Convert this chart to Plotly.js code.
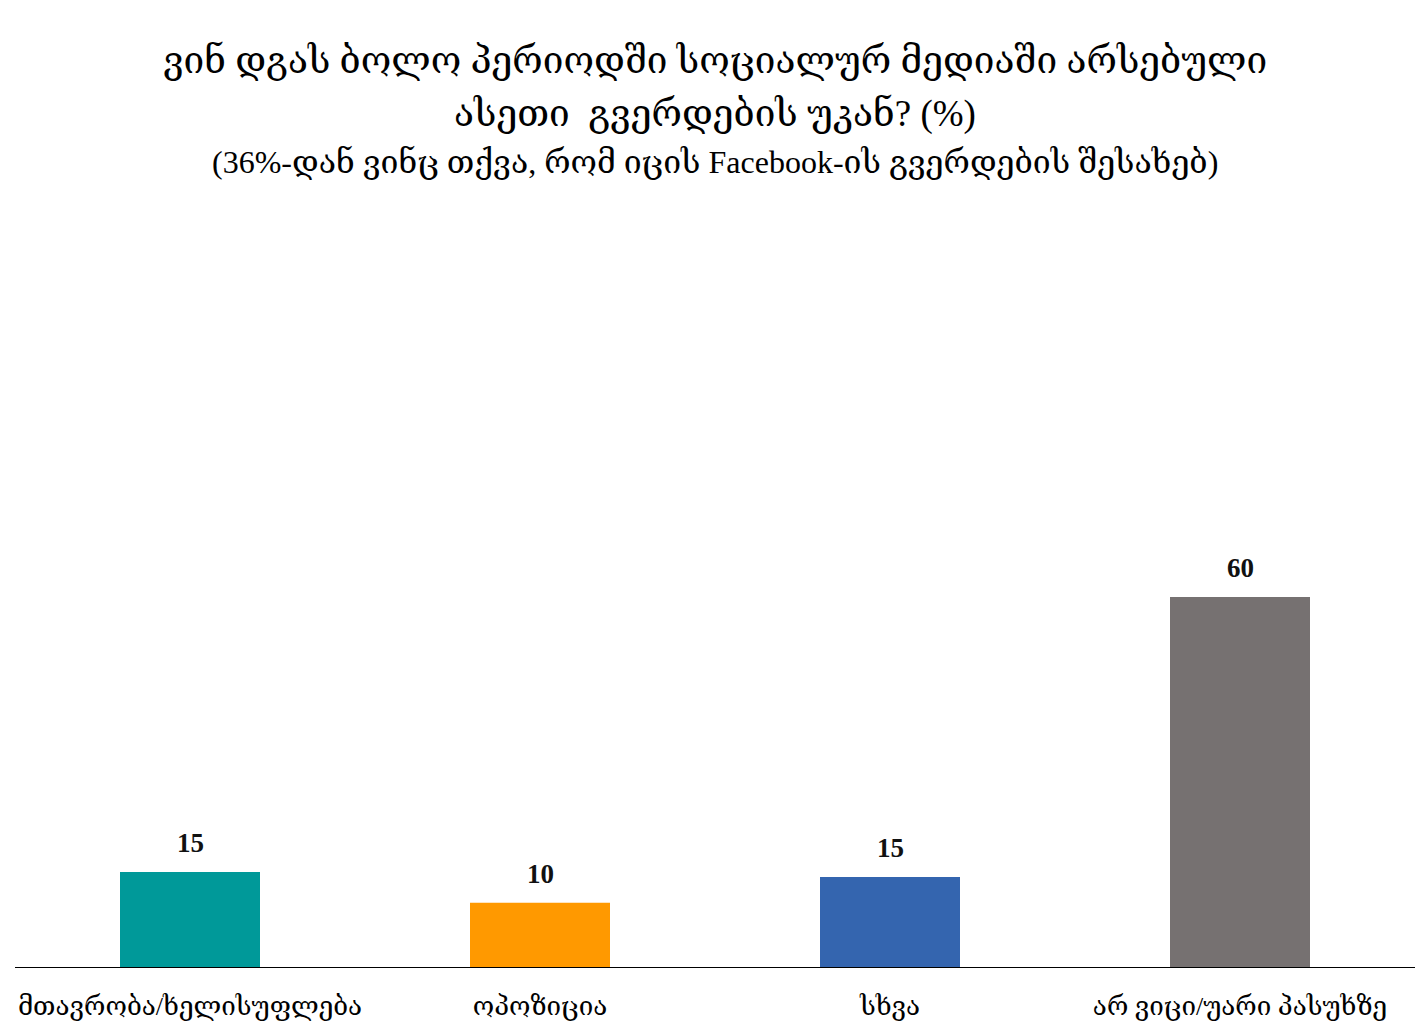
<!DOCTYPE html>
<html>
<head>
<meta charset="utf-8">
<script src="https://cdn.plot.ly/plotly-3.0.1.min.js"></script>
<style>html,body{margin:0;padding:0;background:#fff;}#chart{width:1420px;height:1031px;}</style>
</head>
<body>
<div id="chart"></div>
<script>
const categories = ["მთავრობა/ხელისუფლება", "ოპოზიცია", "სხვა", "არ ვიცი/უარი პასუხზე"];
const values = [15.4, 10.4, 14.6, 60];
const barColors = ["#009999", "#FF9900", "#3465AF", "#767171"];
const titleLine1 = "ვინ დგას ბოლო პერიოდში სოციალურ მედიაში არსებული";
const titleLine2 = "ასეთი  გვერდების უკან? (%)";
const subtitle = "(36%-დან ვინც თქვა, რომ იცის Facebook-ის გვერდების შესახებ)";

const serif = "'Liberation Serif', 'DejaVu Serif', serif";

const annotations = values.map((v, i) => ({
  x: categories[i], y: v, xref: 'x', yref: 'y',
  text: '<b>' + Math.round(v) + '</b>', showarrow: false,
  yanchor: 'bottom', yshift: 12,
  font: {family: serif, size: 27, color: '#111'}
}));

function px2paper(py) { return (967 - py) / 747; }
annotations.push(
  {text: titleLine1, xref: 'paper', yref: 'paper', x: 0.5, y: px2paper(60), xanchor: 'center', yanchor: 'middle', showarrow: false, font: {family: serif, size: 37, color: '#000'}},
  {text: titleLine2, xref: 'paper', yref: 'paper', x: 0.5, y: px2paper(114), xanchor: 'center', yanchor: 'middle', showarrow: false, font: {family: serif, size: 37, color: '#000'}},
  {text: subtitle, xref: 'paper', yref: 'paper', x: 0.5, y: px2paper(162), xanchor: 'center', yanchor: 'middle', showarrow: false, font: {family: serif, size: 32, color: '#000'}}
);

const data = [{
  type: 'bar',
  x: categories,
  y: values,
  marker: {color: barColors},
  hoverinfo: 'x+y'
}];

const layout = {
  width: 1420, height: 1031,
  margin: {l: 15, r: 5, t: 220, b: 64},
  paper_bgcolor: '#fff', plot_bgcolor: '#fff',
  showlegend: false,
  bargap: 0.6,
  xaxis: {
    showline: true, linecolor: '#000', linewidth: 1,
    ticks: '', showgrid: false, zeroline: false,
    tickfont: {family: serif, size: 26, color: '#000'},
    ticklabelstandoff: 16
  },
  yaxis: {
    range: [0, 121.1], visible: false, showgrid: false, zeroline: false
  },
  annotations: annotations
};

Plotly.newPlot('chart', data, layout, {displayModeBar: false, staticPlot: true});
</script>
</body>
</html>
